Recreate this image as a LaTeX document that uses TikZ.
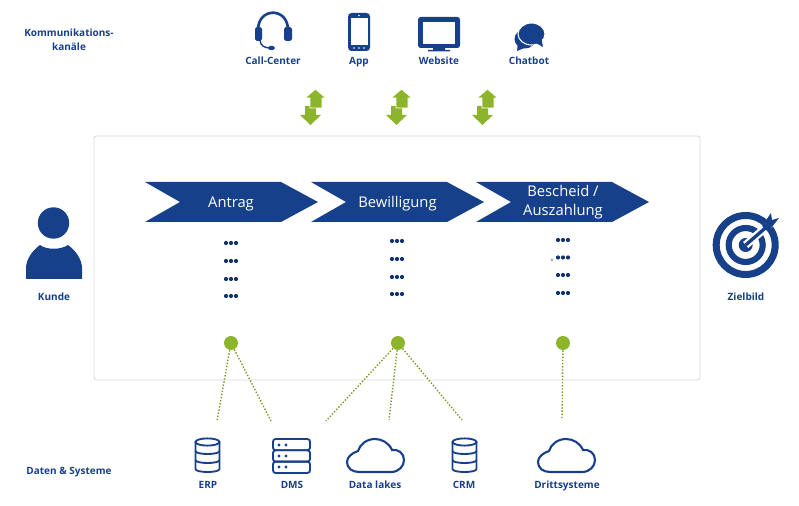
\documentclass[tikz,border=0pt]{standalone}
\usepackage{fontspec}
\setmainfont{Open Sans}
\usetikzlibrary{calc, positioning}
\definecolor{navy}{HTML}{17408B}
\definecolor{leaf}{HTML}{8DB52B}
\begin{document}
\begin{tikzpicture}[x=0.02cm, y=-0.02cm,
  lbl/.style={font=\fontsize{5.7}{8}\selectfont\bfseries, text=navy, inner sep=0pt, align=center},
  steptext/.style={font=\fontsize{8.4}{10.8}\selectfont, text=white, inner sep=0pt, align=center},
  spot/.style={fill=leaf, circle, minimum width=14*0.02cm, inner sep=0pt},
  link/.style={leaf!85!black, line width=0.8pt, densely dotted},
  icon/.style={draw=navy, line width=1.05pt, fill=none},
  pics/chevron/.style={code={
    \fill[navy] (0,0) -- (136,0) -- (173,20) -- (136,40) -- (0,40) -- (35,20) -- cycle;
  }},
  pics/dotrow/.style={code={
    \fill[navy!80!black] (-5,0) circle (2.1) (0,0) circle (2.1) (5,0) circle (2.1);
  }},
  pics/updown/.style={code={
    \fill[leaf] (-5,17) -- (6,17) -- (6,26) -- (11,26) -- (0.5,36) -- (-10,26) -- (-5,26) -- cycle;
    \fill[leaf, draw=white, line width=0.5pt] (5.5,0) -- (16,9) -- (12,9) -- (12,19) -- (0,19) -- (0,9) -- (-5,9) -- cycle;
  }},
  pics/dbstack/.style={code={
    \draw[icon] (-12,-30) -- (-12,-3) .. controls (-12,1) and (12,1) .. (12,-3) -- (12,-30);
    \draw[icon] (0,-30) ellipse (12 and 3.6);
    \draw[icon] (-12,-21) .. controls (-12,-17) and (12,-17) .. (12,-21);
    \draw[icon] (-12,-12) .. controls (-12,-8) and (12,-8) .. (12,-12);
  }},
  pics/cloud/.style={code={
    \draw[icon, line width=1.2pt] (12,0) -- (44,0) .. controls (52,0) and (57,-6) .. (57,-12) .. controls (57,-19) and (51,-23) .. (45,-22) .. controls (42,-29) and (35,-33) .. (28,-33) .. controls (20,-33) and (13,-28) .. (11,-21) .. controls (5,-19) and (0,-15) .. (0,-10) .. controls (0,-4) and (5,0) .. (12,0) -- cycle;
  }}]
  \useasboundingbox (0,0) rectangle (799,506);

  \draw[black!15, line width=0.5pt, rounded corners=1.5pt] (94,136) rectangle (700,380);

  \node[lbl] (kanal) at (69,40) {Kommunikations-\\kanäle};
  \node[lbl, anchor=base] (kunde) at (54,301) {Kunde};
  \node[lbl, anchor=base] (ziel) at (746,301) {Zielbild};
  \node[lbl, anchor=base] (daten) at (69,475) {Daten \& Systeme};

  \node[lbl, anchor=base] (call) at (273,65) {Call-Center};
  \node[lbl, anchor=base] (app) at (359,65) {App};
  \node[lbl, anchor=base] (web) at (439,65) {Website};
  \node[lbl, anchor=base] (chat) at (529,65) {Chatbot};

  \draw[navy, line width=1.5pt] (258,30) .. controls (258,7) and (288,7) .. (288,30);
  \fill[navy, rounded corners=1pt] (255,27) rectangle (262,41) (284,27) rectangle (292,41);
  \draw[navy, line width=0.8pt] (260,40) .. controls (260,45) and (264,48) .. (270,48);
  \fill[navy, rounded corners=1pt] (268,46) rectangle (275,50);

  \fill[navy, rounded corners=2pt] (348,13) rectangle (370,51);
  \fill[white] (351,18) rectangle (368,45);
  \fill[white] (359,15.5) circle (0.9) (354,48) circle (0.9) (359,48) circle (0.9) (364,48) circle (0.9);

  \fill[navy, rounded corners=1.5pt] (418,17) rectangle (460,48);
  \fill[white] (423,22) rectangle (455,44);
  \fill[navy] (433,48) rectangle (445,50) (428,50) rectangle (450,51.5);

  \fill[navy] (525,39) ellipse (10.5 and 9.5);
  \fill[navy] (518,42) -- (517,51) -- (527,47) -- cycle;
  \draw[white, line width=0.6pt, fill=navy] (531.5,34) ellipse (13.5 and 11);
  \fill[navy] (534,42) -- (543,47) -- (541,36) -- cycle;

  \fill[navy] (53.5,223) circle (15.7);
  \fill[navy] (26,279) -- (26,268) .. controls (26,259) and (33,250) .. (40,245) .. controls (46,250) and (61,250) .. (68,245) .. controls (75,250) and (82,259) .. (82,268) -- (82,279) -- cycle;

  \draw[navy, line width=4pt] (745.7,245) circle (29.5);
  \draw[navy, line width=3.5pt] (745.7,245) circle (17);
  \fill[navy] (745.7,245) circle (7);
  \draw[white, line width=4.5pt] (745.7,245) -- (772,222);
  \draw[navy, line width=1.9pt] (745.7,245) -- (770,224);
  \fill[navy] (762,226) -- (771,213) -- (772,220) -- (779,218) -- (768,232) -- cycle;

  \pic at (145,182) {chevron};
  \pic at (311,182) {chevron};
  \pic at (476,182) {chevron};
  \node[steptext, anchor=base] (antrag) at (231,207.5) {Antrag};
  \node[steptext, anchor=base] (bewilligung) at (397.5,207.5) {Bewilligung};
  \node[steptext] (bescheid) at (563,202.5) {Bescheid /\\Auszahlung};

  \pic at (231,243) {dotrow};
  \pic at (231,261) {dotrow};
  \pic at (231,279) {dotrow};
  \pic at (231,296) {dotrow};
  \pic at (397,241) {dotrow};
  \pic at (397,259) {dotrow};
  \pic at (397,277) {dotrow};
  \pic at (397,294) {dotrow};
  \pic at (563,240) {dotrow};
  \pic at (563,257.5) {dotrow};
  \pic at (563,275) {dotrow};
  \pic at (563,293) {dotrow};
  \fill[black!35] (552,260) circle (1.5);

  \pic at (310,89) {updown};
  \pic at (396,89) {updown};
  \pic at (482,89) {updown};

  \node[spot] (s1) at (231,343) {};
  \node[spot] (s2) at (398,343) {};
  \node[spot] (s3) at (563,343) {};

  \coordinate (erp) at (217,421);
  \coordinate (dms) at (271,421);
  \coordinate (lake1) at (326,421);
  \coordinate (lake2) at (389,420);
  \coordinate (crm) at (462,420);
  \coordinate (dritt) at (562,420);

  \draw[link] (s1) -- (erp);
  \draw[link] (s1) -- (dms);
  \draw[link] (s2) -- (lake1);
  \draw[link] (s2) -- (lake2);
  \draw[link] (s2) -- (crm);
  \draw[link] (s3) -- (dritt);

  \pic at (207.5,472) {dbstack};
  \pic at (464.5,472) {dbstack};
  \pic at (347,472) {cloud};
  \pic at (538,472) {cloud};

  \draw[icon, rounded corners=1.5pt] (273,439) rectangle (310,450.3);
  \draw[icon, rounded corners=1.5pt] (273,450.3) rectangle (310,461.6);
  \draw[icon, rounded corners=1.5pt] (273,461.6) rectangle (310,473);
  \fill[navy] (279,445) circle (1.6) (286,445) circle (1.6) (279,456) circle (1.6) (286,456) circle (1.6) (279,467) circle (1.6) (286,467) circle (1.6);

  \node[lbl, anchor=base] (erplbl) at (208,489) {ERP};
  \node[lbl, anchor=base] (dmslbl) at (292,489) {DMS};
  \node[lbl, anchor=base] (lakelbl) at (375,489) {Data lakes};
  \node[lbl, anchor=base] (crmlbl) at (464,489) {CRM};
  \node[lbl, anchor=base] (drittlbl) at (567,489) {Drittsysteme};
\end{tikzpicture}
\end{document}
